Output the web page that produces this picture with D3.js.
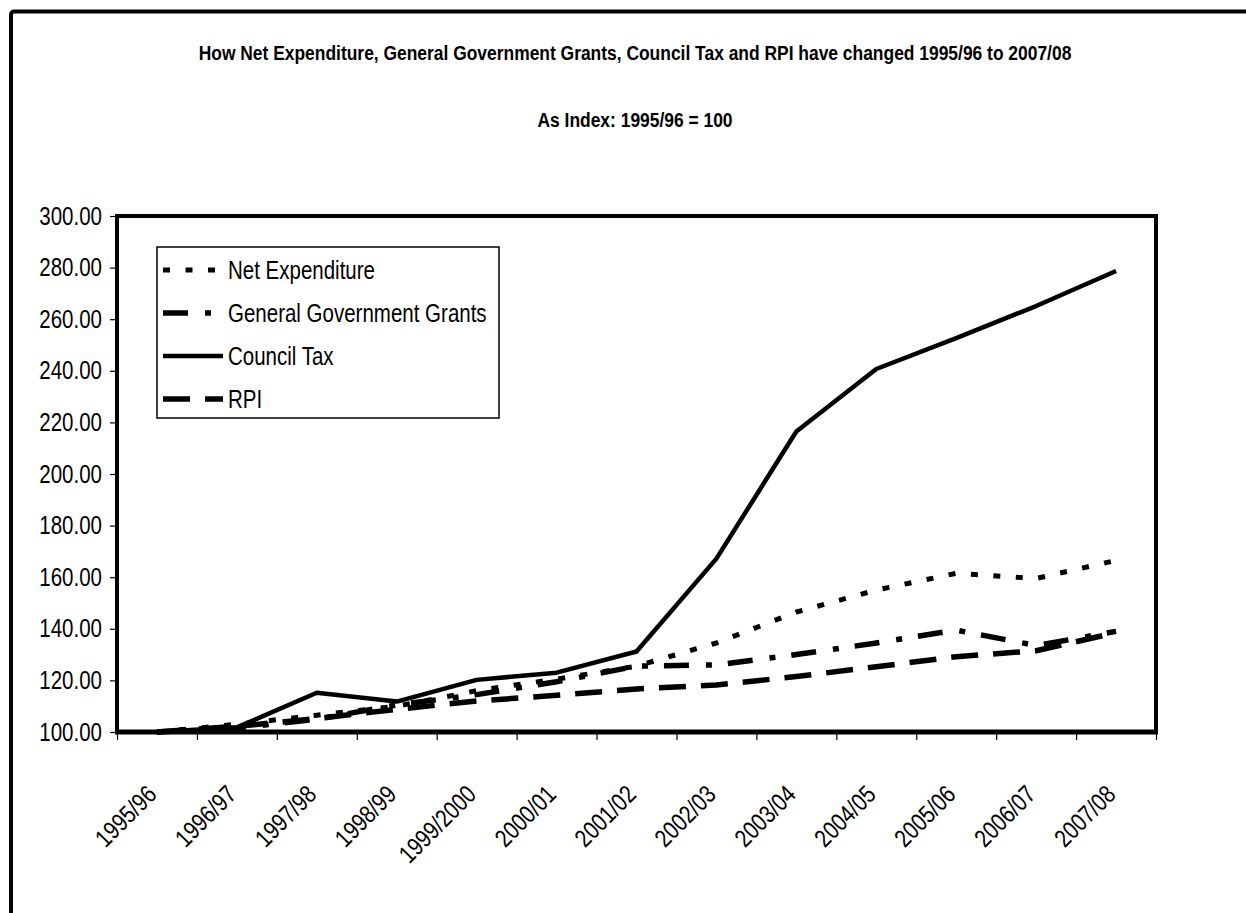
<!DOCTYPE html>
<html>
<head>
<meta charset="utf-8">
<script src="https://cdn.jsdelivr.net/npm/d3@7"></script>
<style>
  html, body { margin: 0; padding: 0; background: #fff; }
  svg { display: block; }
</style>
</head>
<body>
<svg id="chart" width="1246" height="913"></svg>
<script>
const categories = ["1995/96","1996/97","1997/98","1998/99","1999/2000","2000/01","2001/02","2002/03","2003/04","2004/05","2005/06","2006/07","2007/08"];
const netExpenditure = [100, 103, 106.5, 110, 116, 120.5, 125.5, 134.5, 146.5, 155, 161.5, 159.5, 166.5];
const generalGovernmentGrants = [100, 101.5, 105, 110.5, 114.5, 119.5, 125.5, 126, 130, 134.5, 139.5, 133.5, 139];
const councilTax = [100, 101.8, 115.2, 111.8, 120.2, 123, 131.2, 167.2, 216.5, 240.7, 252.7, 265.1, 278.7];
const rpi = [100, 102.2, 105.2, 108.8, 112, 114.2, 116.7, 118.2, 121.5, 125.3, 129.2, 131.5, 138.5];
const yTicks = [100, 120, 140, 160, 180, 200, 220, 240, 260, 280, 300];
const seriesNames = ["Net Expenditure", "General Government Grants", "Council Tax", "RPI"];
const titleText = "How Net Expenditure, General Government Grants, Council Tax and RPI have changed 1995/96 to 2007/08";
const subtitleText = "As Index: 1995/96 = 100";

const FONT = "'Liberation Sans', Arial, sans-serif";
const SQ = 0.82; // horizontal condensing to mimic a narrow face

const series = [
  { name: seriesNames[0], values: netExpenditure, dash: "7,15.5", width: 5 },
  { name: seriesNames[1], values: generalGovernmentGrants, dash: "25,17,6,16", width: 5.5 },
  { name: seriesNames[2], values: councilTax, dash: null, width: 4.5 },
  { name: seriesNames[3], values: rpi, dash: "27,15", width: 5.5 }
];

const svg = d3.select("#chart");
const L = 117, R = 1156, T = 216, B = 732;

// outer chart border
svg.append("rect").attr("x", 11).attr("y", 11.5).attr("width", 1400).attr("height", 1100)
  .attr("rx", 3).attr("fill", "#fff").attr("stroke", "#000").attr("stroke-width", 4);

// titles
svg.append("text").attr("transform", `translate(635,60) scale(0.83,1)`).attr("text-anchor", "middle")
  .attr("font-family", FONT).attr("font-weight", "bold").attr("font-size", 21).text(titleText);
svg.append("text").attr("transform", `translate(635,127) scale(0.83,1)`).attr("text-anchor", "middle")
  .attr("font-family", FONT).attr("font-weight", "bold").attr("font-size", 21).text(subtitleText);

const x = d3.scaleBand().domain(categories).range([L, R]).padding(0);
const xIdx = d3.scaleLinear().domain([0, categories.length]).range([L, R]);
const y = d3.scaleLinear().domain([100, 300]).range([B, T]);

// plot area
svg.append("rect").attr("x", L).attr("y", T).attr("width", R - L).attr("height", B - T)
  .attr("fill", "#fff").attr("stroke", "#000").attr("stroke-width", 4);

// y axis
const yAxis = svg.append("g").attr("transform", `translate(${L},0)`)
  .call(d3.axisLeft(y).tickValues(yTicks).tickFormat(d3.format(".2f")).tickSize(7).tickPadding(8));
yAxis.select(".domain").remove();
yAxis.selectAll("text").attr("font-size", 25).attr("fill", "#000").attr("font-family", FONT)
  .attr("x", 0).attr("transform", `translate(-15,0) scale(${SQ},1)`);
yAxis.selectAll("line").attr("stroke", "#000").attr("stroke-width", 1.2);

// x axis tick marks at band boundaries
const xTickAxis = svg.append("g").attr("transform", `translate(0,${B})`)
  .call(d3.axisBottom(xIdx).tickValues(d3.range(categories.length + 1)).tickFormat("").tickSize(8));
xTickAxis.select(".domain").remove();
xTickAxis.selectAll("line").attr("stroke", "#000").attr("stroke-width", 1.2);

// x labels
const xLab = svg.append("g").attr("transform", `translate(0,${B})`)
  .call(d3.axisBottom(x).tickSize(0).tickPadding(0));
xLab.select(".domain").remove();
xLab.selectAll("text")
  .attr("font-size", 25).attr("fill", "#000").attr("font-family", FONT)
  .attr("text-anchor", "end").attr("dy", null).attr("y", 0)
  .attr("transform", `translate(1,64) rotate(-45) scale(${SQ},1)`);

// bottom axis line
svg.append("line").attr("x1", L - 2).attr("x2", R + 2).attr("y1", B).attr("y2", B)
  .attr("stroke", "#000").attr("stroke-width", 5);

// lines
const line = d3.line()
  .x((d, i) => x(categories[i]) + x.bandwidth() / 2)
  .y(d => y(d));

series.forEach(s => {
  svg.append("path").datum(s.values)
    .attr("d", line)
    .attr("fill", "none").attr("stroke", "#000")
    .attr("stroke-width", s.width)
    .attr("stroke-linejoin", "round")
    .attr("stroke-linecap", "butt")
    .attr("stroke-dasharray", s.dash);
});

// legend
const lg = svg.append("g");
lg.append("rect").attr("x", 157).attr("y", 247).attr("width", 342).attr("height", 171)
  .attr("fill", "#fff").attr("stroke", "#000").attr("stroke-width", 1.5);
const rowY = [270, 313, 356, 399];
series.forEach((s, i) => {
  lg.append("line").attr("x1", 163).attr("x2", 223).attr("y1", rowY[i]).attr("y2", rowY[i])
    .attr("stroke", "#000").attr("stroke-width", s.width)
    .attr("stroke-dasharray", s.dash);
  lg.append("text").attr("transform", `translate(228,${rowY[i]}) scale(${SQ},1)`).attr("dy", "0.36em")
    .attr("font-size", 25).attr("font-family", FONT)
    .text(s.name);
});
</script>
</body>
</html>
